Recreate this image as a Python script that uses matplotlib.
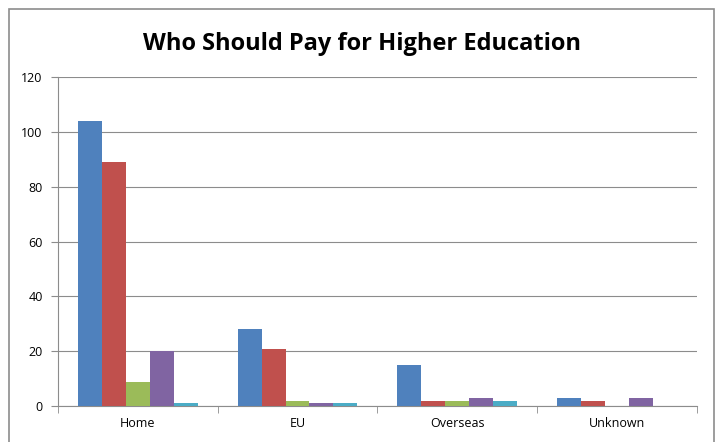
import matplotlib
matplotlib.use('Agg')
import matplotlib.pyplot as plt
import numpy as np
from matplotlib.patches import Rectangle

categories = ['Home', 'EU', 'Overseas', 'Unknown']
s1 = [104, 28, 15, 3]
s2 = [89, 21, 2, 2]
s3 = [9, 2, 2, 0]
s4 = [20, 1, 3, 3]
s5 = [1, 1, 2, 0]
series = [s1, s2, s3, s4, s5]
colors = ['#4F81BD', '#C0504D', '#9BBB59', '#8064A2', '#4BACC6']

plt.rcParams['font.family'] = ['Open Sans', 'DejaVu Sans']

fig = plt.figure(figsize=(7.16, 4.42), dpi=100)
ax = fig.add_axes([0.081, 0.081, 0.892, 0.745])

# outer chart border
fig.patches.append(Rectangle((0.012, -0.01), 0.985, 0.99, transform=fig.transFigure,
                             fill=False, edgecolor='#8c8c8c', linewidth=1.2))

x = np.arange(len(categories))
w = 0.15
for i, (vals, c) in enumerate(zip(series, colors)):
    ax.bar(x - 2 * w + i * w, vals, width=w, color=c, zorder=3)

ax.set_xlim(-0.5, 3.5)
ax.set_ylim(0, 120)
ax.set_yticks(range(0, 121, 20))
ax.set_xticks(x)
ax.set_xticklabels(categories, fontsize=9)
ax.set_xticks(np.arange(-0.5, 4, 1), minor=True)
ax.tick_params(axis='x', which='major', length=0, pad=8)
ax.tick_params(axis='x', which='minor', length=5, color='#8c8c8c', direction='out')
ax.tick_params(axis='y', length=5, color='#8c8c8c', labelsize=9, pad=6)
ax.grid(axis='y', color='#8c8c8c', linewidth=0.8, zorder=0)
for s in ['top', 'right']:
    ax.spines[s].set_visible(False)
for s in ['left', 'bottom']:
    ax.spines[s].set_color('#8c8c8c')

fig.text(0.505, 0.9, 'Who Should Pay for Higher Education', ha='center', va='center',
         fontsize=17, fontweight='bold')

fig.savefig('out.png', dpi=100)
